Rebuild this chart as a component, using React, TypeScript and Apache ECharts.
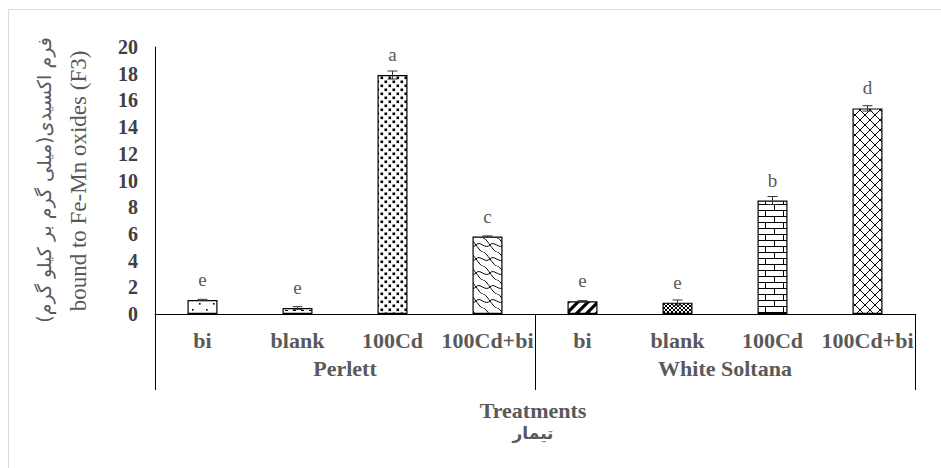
import React, { useEffect, useRef } from "react";
import * as echarts from "echarts";

const categories = ["bi", "blank", "100Cd", "100Cd+bi", "bi", "blank", "100Cd", "100Cd+bi"];
const groups = ["Perlett", "White Soltana"];
const values = [1.05, 0.45, 17.9, 5.8, 0.95, 0.85, 8.5, 15.4];
const errors = [0.05, 0.1, 0.3, 0.05, 0.05, 0.2, 0.3, 0.2];
const letters = ["e", "e", "a", "c", "e", "e", "b", "d"];
const yTitleFa = "\u200Fفرم اکسیدی(میلی گرم بر کیلو گرم)\u200F";
const yTitleEn = "bound to Fe-Mn oxides (F3)";
const xTitleEn = "Treatments";
const xTitleFa = "تیمار";

const SERIF = "Times New Roman";
const FA = "DejaVu Sans";
const TXT = "#595959";

type Drawer = (c: CanvasRenderingContext2D, w: number, h: number) => void;

function makePattern(w: number, h: number, draw: Drawer) {
  const cv = document.createElement("canvas");
  cv.width = w;
  cv.height = h;
  const c = cv.getContext("2d")!;
  c.fillStyle = "#ffffff";
  c.fillRect(0, 0, w, h);
  c.fillStyle = "#000000";
  c.strokeStyle = "#000000";
  draw(c, w, h);
  return { image: cv.toDataURL(), repeat: "repeat", imageWidth: w, imageHeight: h } as any;
}

function buildPatterns() {
  const sparseDots = makePattern(14, 12, (c) => {
    c.fillRect(3, 3, 1.6, 1.6);
    c.fillRect(10, 9, 1.6, 1.6);
  });
  const dashes = makePattern(8, 6, (c) => {
    c.fillRect(1, 1, 4, 1.2);
    c.fillRect(5, 4, 3, 1);
  });
  const denseDots = makePattern(8, 8, (c) => {
    c.fillRect(0.5, 0.5, 2.6, 2.6);
    c.fillRect(4.5, 4.5, 2.6, 2.6);
  });
  const scales = makePattern(14, 14, (c) => {
    c.lineWidth = 1;
    c.beginPath();
    c.moveTo(0, 7);
    c.bezierCurveTo(4, 2, 9, 12, 14, 7);
    c.stroke();
    c.beginPath();
    c.moveTo(0, 7);
    c.bezierCurveTo(3, 11, 5, 14, 7, 14);
    c.stroke();
    c.beginPath();
    c.moveTo(7, 0);
    c.bezierCurveTo(9, 0, 11, 3, 14, 7);
    c.stroke();
  });
  const stripes = makePattern(10, 10, (c) => {
    c.lineWidth = 3.2;
    c.beginPath();
    c.moveTo(-2, 12);
    c.lineTo(12, -2);
    c.stroke();
    c.beginPath();
    c.moveTo(-2, 2);
    c.lineTo(2, -2);
    c.stroke();
    c.beginPath();
    c.moveTo(8, 12);
    c.lineTo(12, 8);
    c.stroke();
  });
  const smallHatch = makePattern(4, 4, (c) => {
    c.lineWidth = 1;
    c.beginPath();
    c.moveTo(0, 0);
    c.lineTo(4, 4);
    c.moveTo(4, 0);
    c.lineTo(0, 4);
    c.stroke();
  });
  const bricks = makePattern(18, 12, (c) => {
    c.lineWidth = 1;
    c.beginPath();
    c.moveTo(0, 0.5);
    c.lineTo(18, 0.5);
    c.moveTo(0, 6.5);
    c.lineTo(18, 6.5);
    c.moveTo(0.5, 0);
    c.lineTo(0.5, 6.5);
    c.moveTo(9.5, 6.5);
    c.lineTo(9.5, 12);
    c.stroke();
  });
  const diamonds = makePattern(10, 10, (c) => {
    c.lineWidth = 1;
    c.beginPath();
    c.moveTo(0, 0);
    c.lineTo(10, 10);
    c.moveTo(10, 0);
    c.lineTo(0, 10);
    c.stroke();
  });
  return [sparseDots, dashes, denseDots, scales, stripes, smallHatch, bricks, diamonds];
}

export default function App() {
  const ref = useRef<HTMLDivElement>(null);
  useEffect(() => {
    if (!ref.current) return;
    const chart = echarts.init(ref.current, undefined, { renderer: "svg" });
    const patterns = buildPatterns();
    const option: any = {
      animation: false,
      backgroundColor: "#ffffff",
      textStyle: { fontFamily: SERIF },
      grid: { left: 155, right: 26, top: 47, bottom: 154, containLabel: false },
      xAxis: [
        {
          type: "category",
          data: categories,
          position: "bottom",
          axisLine: { show: true, lineStyle: { color: "#000", width: 1 } },
          axisTick: { show: false },
          axisLabel: {
            interval: 0,
            margin: 15,
            color: TXT,
            fontFamily: SERIF,
            fontWeight: "bold",
            fontSize: 22,
          },
        },
        {
          type: "category",
          data: groups,
          position: "bottom",
          axisLine: { show: false },
          axisTick: { show: true, length: 76, interval: 0, lineStyle: { color: "#000", width: 1 } },
          axisLabel: {
            interval: 0,
            margin: 43,
            color: TXT,
            fontFamily: SERIF,
            fontWeight: "bold",
            fontSize: 22,
          },
        },
      ],
      yAxis: {
        type: "value",
        min: 0,
        max: 20,
        interval: 2,
        splitLine: { show: false },
        axisLine: { show: true, lineStyle: { color: "#000", width: 1 } },
        axisTick: { show: false },
        axisLabel: {
          margin: 17,
          color: "#404040",
          fontFamily: SERIF,
          fontWeight: "bold",
          fontSize: 20,
        },
      },
      graphic: [
        {
          type: "rect",
          z: -10,
          shape: { x: 8.5, y: 9.5, width: 1000, height: 1000 },
          style: { fill: "none", stroke: "#d9d9d9", lineWidth: 1 },
        },
        {
          type: "text",
          x: 44,
          y: 180,
          rotation: Math.PI / 2,
          style: {
            text: yTitleFa,
            align: "center",
            verticalAlign: "middle",
            fill: TXT,
            fontFamily: FA,
            fontSize: 19,
            fontWeight: "normal",
          },
        },
        {
          type: "text",
          x: 78,
          y: 181,
          rotation: Math.PI / 2,
          style: {
            text: yTitleEn,
            align: "center",
            verticalAlign: "middle",
            fill: TXT,
            fontFamily: SERIF,
            fontSize: 23,
            fontWeight: "normal",
          },
        },
        {
          type: "text",
          x: 533,
          y: 410,
          style: {
            text: xTitleEn,
            align: "center",
            verticalAlign: "middle",
            fill: TXT,
            fontFamily: SERIF,
            fontSize: 22,
            fontWeight: "bold",
          },
        },
        {
          type: "text",
          x: 533,
          y: 433,
          style: {
            text: xTitleFa,
            align: "center",
            verticalAlign: "middle",
            fill: TXT,
            fontFamily: FA,
            fontSize: 17,
            fontWeight: "bold",
          },
        },
      ],
      series: [
        {
          type: "bar",
          xAxisIndex: 0,
          barWidth: 30,
          data: values.map((v, i) => ({
            value: v,
            itemStyle: { color: patterns[i], borderColor: "#000", borderWidth: 1.2 },
          })),
          label: {
            show: true,
            position: "top",
            distance: 11,
            formatter: (p: any) => letters[p.dataIndex],
            color: TXT,
            fontFamily: SERIF,
            fontSize: 19,
          },
        },
        {
          type: "custom",
          xAxisIndex: 0,
          z: 5,
          data: values.map((v, i) => [i, v, errors[i]]),
          encode: { x: 0, y: 1 },
          renderItem: (params: any, api: any) => {
            const i = api.value(0);
            const v = api.value(1);
            const e = api.value(2);
            const top = api.coord([i, v + e]);
            const bot = api.coord([i, Math.max(0, v - e)]);
            const hw = 5;
            const st = { stroke: "#333", lineWidth: 1 };
            return {
              type: "group",
              children: [
                { type: "line", shape: { x1: top[0], y1: top[1], x2: bot[0], y2: bot[1] }, style: st },
                { type: "line", shape: { x1: top[0] - hw, y1: top[1], x2: top[0] + hw, y2: top[1] }, style: st },
                { type: "line", shape: { x1: bot[0] - hw, y1: bot[1], x2: bot[0] + hw, y2: bot[1] }, style: st },
              ],
            };
          },
        },
      ],
    };
    chart.setOption(option);
    return () => chart.dispose();
  }, []);
  return (
    <div
      ref={ref}
      style={{ position: "fixed", left: 0, top: 0, width: 941, height: 468, background: "#fff" }}
    />
  );
}
